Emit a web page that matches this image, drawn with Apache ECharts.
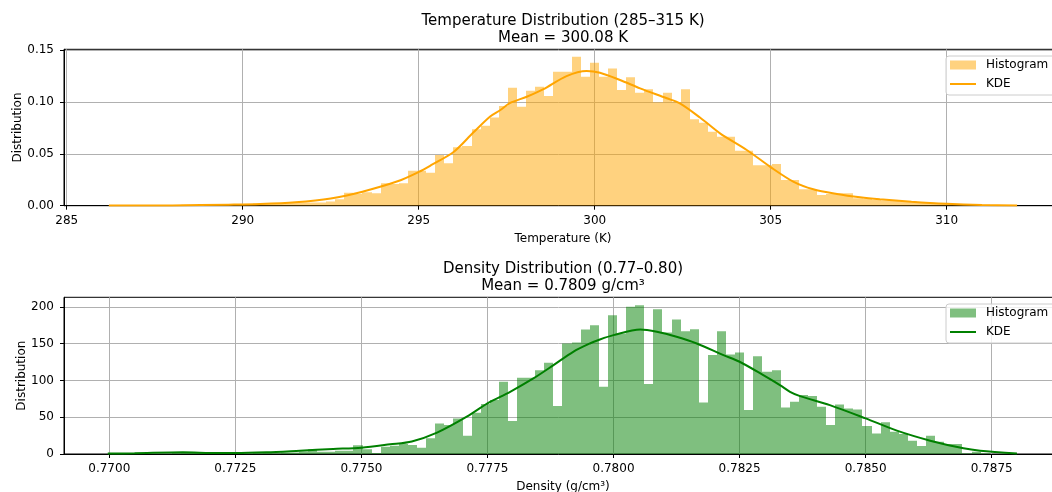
<!DOCTYPE html>
<html><head><meta charset="utf-8">
<script src="https://cdn.jsdelivr.net/npm/echarts@6/dist/echarts.min.js"></script>
<style>html,body{margin:0;padding:0;background:#fff}#c{width:1052px;height:492px}</style>
</head><body><div id="c"></div>
<script>
// ---------- data ----------
const tempTitle = 'Temperature Distribution (285–315 K)';
const tempMeanText = 'Mean = 300.08 K';
const densTitle = 'Density Distribution (0.77–0.80)';
const densMeanText = 'Mean = 0.7809 g/cm³';

const tempBinRange = [286.17, 312.0];
const tempHist = [
 0.0004,0,0,0.0004,0,0.0004,0.0004,0,0.0008,0.0004,
 0.0008,0.0012,0.0008,0.0016,0.0012,0.0016,0.002,0.0024,0.0023,0.0024,
 0.0028,0.003,0.003,0.0032,0.004,0.0062,0.0125,0.0115,0.013,0.012,
 0.0216,0.021,0.0216,0.0337,0.0337,0.0318,0.0488,0.0408,0.0563,0.0575,
 0.0736,0.077,0.085,0.096,0.1137,0.0954,0.1108,0.1146,0.1056,0.1291,
 0.129,0.1435,0.1243,0.1378,0.1243,0.1323,0.1115,0.1237,0.1089,0.1121,
 0.0996,0.1089,0.100,0.1121,0.0832,0.080,0.0713,0.0665,0.0665,0.053,
 0.053,0.039,0.039,0.0402,0.0248,0.0248,0.0158,0.0158,0.0103,0.0113,
 0.0119,0.0119,0.0071,0.0065,0.0055,0.005,0.0046,0.0042,0.0038,0.0034,
 0.0028,0.0024,0.002,0.0016,0.0012,0.0008,0.0008,0.0004,0.0004,0.0004
];
const tempKdeX = [286.2,288,289.6,290.5,291.5,292.5,293.4,294.4,295.0,295.35,296.0,296.55,297.03,297.31,297.6,298.07,298.53,299.2,299.77,300.15,300.72,301.29,302.05,302.42,302.99,303.56,304.32,304.98,305.64,306.21,306.88,307.54,308.1,309.0,310.0,311.0,312.0];
const tempKdeY = [0.0001,0.0003,0.001,0.0016,0.0033,0.007,0.0135,0.0235,0.0325,0.039,0.052,0.0705,0.086,0.092,0.099,0.105,0.112,0.1249,0.1298,0.1281,0.1211,0.1131,0.1035,0.0986,0.085,0.0697,0.0537,0.0376,0.0232,0.0158,0.0113,0.0081,0.0062,0.0038,0.0018,0.0006,0.0001];

const densBinRange = [0.769974, 0.788002];
const densHist = [
 1.1,0,0,0,0,0,0,1.1,2.2,2.2,
 2.2,1.1,1.1,0,1.1,0,1.1,2.2,1.1,2.2,
 2.2,3.3,6.4,3,3,4.5,4.5,11.8,6.5,1.5,
 10,11.3,13.6,12.2,8.6,21.3,41.6,39.4,48.4,24.9,
 56.1,67.9,73.3,98.2,44.8,103.6,103.6,114,124,65.2,
 150.2,151.6,169.2,175.1,91.4,188.7,163.8,200,202.3,95,
 196.8,165,182.8,167,169.7,70.1,134.4,167,135.3,138,
 59.7,133,111.8,114,63.3,71,80.1,78.7,64.3,39.4,
 67.4,62,60.6,38,28,43,30.3,27.2,18.1,10.9,
 24.9,16.7,13.6,13.6,1,3.2,1,0,0,1.1
];
const densKdeX = [0.76997,0.7705,0.77146,0.772,0.7725,0.77312,0.77378,0.77444,0.775,0.77557,0.776,0.7765,0.77709,0.7775,0.77795,0.77841,0.77881,0.7792,0.77953,0.77973,0.78,0.78053,0.78086,0.78125,0.78165,0.78218,0.7825,0.78297,0.7833,0.7835,0.7837,0.78429,0.785,0.78562,0.78628,0.78694,0.78727,0.788];
const densKdeY = [0.7,1.0,2.3,1.5,1.2,2.3,4.5,6.8,8.6,13.1,17,29,50.7,68.8,84.6,102.7,120.8,138.9,150.2,155.7,161.6,169.2,166.1,159.3,150.2,134.4,125.4,107.2,93.7,84.6,78.7,66.5,48.4,31.7,18.1,7.7,4.5,0.8];

const tempXTicks = [285,290,295,300,305,310];
const tempYTicks = [0,0.05,0.10,0.15];
const densXTicks = [0.7700,0.7725,0.7750,0.7775,0.7800,0.7825,0.7850,0.7875];
const densYTicks = [0,50,100,150,200];

// ---------- helpers ----------
function binRects(range, vals){
  const n = vals.length, w = (range[1]-range[0])/n;
  return vals.map((v,i)=>[range[0]+i*w, range[0]+(i+1)*w, v]);
}
function zip(a,b){return a.map((x,i)=>[x,b[i]]);}
function renderBar(params, api){
  const p0 = api.coord([api.value(0), api.value(2)]);
  const p1 = api.coord([api.value(1), 0]);
  const x0 = Math.round(p0[0]), x1 = Math.round(p1[0]);
  return {type:'rect', shape:{x:x0, y:p0[1], width:x1-x0, height:p1[1]-p0[1]}, style: api.style()};
}

const FONT = 'DejaVu Sans';
const txt = {fontFamily: FONT, color:'#000'};
const LINE_ICON = 'path://M0,0 L0,0 Z M0,3.5 L26,3.5 L26,5.5 L0,5.5 Z M26,9 L26,9 Z';
function xAx(idx, min, max, ticks, dec, name){
  return {type:'value', gridIndex:idx, min:min, max:max,
    name:name, nameLocation:'middle', nameGap:27, nameMoveOverlap:false, nameTextStyle:Object.assign({fontSize:12},txt),
    axisLine:{show:true, onZero:false, lineStyle:{color:'#000', width:1}},
    axisTick:{show:true, length:4, customValues:ticks, lineStyle:{color:'#000'}},
    axisLabel:Object.assign({fontSize:12, margin:9, customValues:ticks, formatter:v=>v.toFixed(dec)},txt),
    splitLine:{show:true, lineStyle:{color:'#b0b0b0', width:1}}};
}
function yAx(idx, max, ticks, dec, gap){
  return {type:'value', gridIndex:idx, min:0, max:max,
    name:'Distribution', nameLocation:'middle', nameGap:gap, nameMoveOverlap:false, nameTextStyle:Object.assign({fontSize:12},txt),
    axisLine:{show:true, lineStyle:{color:'#000', width:1}},
    axisTick:{show:true, length:4, customValues:ticks, lineStyle:{color:'#000'}},
    axisLabel:Object.assign({fontSize:12, margin:10, customValues:ticks, formatter:v=>v.toFixed(dec)},txt),
    splitLine:{show:true, lineStyle:{color:'#b0b0b0', width:1}}};
}
function legendAt(top, names){
  return {left:946, top:top, orient:'vertical', itemWidth:26, itemHeight:9, itemGap:7,
    padding:[3,8,5,4], backgroundColor:'rgba(255,255,255,0.8)', borderColor:'#cccccc', borderWidth:1, borderRadius:3,
    textStyle:Object.assign({fontSize:12, padding:[0,0,0,5]},txt), formatter:n=>n.trim(),
    data:[{name:names[0], icon:'rect'}, {name:names[1], icon:LINE_ICON}]};
}

const chart = echarts.init(document.getElementById('c'), null, {renderer:'canvas'});
chart.setOption({
  animation:false,
  title:[
    {text: tempTitle+'\n'+tempMeanText, left:563, top:13, padding:0, textAlign:'center',
     textStyle:Object.assign({fontSize:15, fontWeight:'normal', lineHeight:17},txt)},
    {text: densTitle+'\n'+densMeanText, left:563, top:261, padding:0, textAlign:'center',
     textStyle:Object.assign({fontSize:15, fontWeight:'normal', lineHeight:17},txt)}
  ],
  legend:[legendAt(56, ['Histogram','KDE']), legendAt(304, ['Histogram ','KDE '])],
  grid:[
    {left:64, right:-10, top:49.3, height:156.4, show:true, borderColor:'#000', borderWidth:1, backgroundColor:'transparent', containLabel:false, outerBoundsMode:'none'},
    {left:64, right:-10, top:297.3, height:156.7, show:true, borderColor:'#000', borderWidth:1, backgroundColor:'transparent', containLabel:false, outerBoundsMode:'none'}
  ],
  xAxis:[
    xAx(0, 284.923, 313.276, tempXTicks, 0, 'Temperature (K)'),
    xAx(1, 0.769102, 0.788894, densXTicks, 4, 'Density (g/cm³)')
  ],
  yAxis:[
    yAx(0, 0.1507, tempYTicks, 2, 40),
    yAx(1, 213, densYTicks, 0, 36)
  ],
  series:[
    {name:'Histogram', type:'custom', xAxisIndex:0, yAxisIndex:0, renderItem:renderBar,
     encode:{x:[0,1], y:2}, data:binRects(tempBinRange, tempHist), itemStyle:{color:'rgba(255,165,0,0.5)'}, clip:true},
    {name:'KDE', type:'line', xAxisIndex:0, yAxisIndex:0, data:zip(tempKdeX,tempKdeY), smooth:0.3,
     showSymbol:false, symbol:'none', lineStyle:{color:'#FFA500', width:2}, itemStyle:{color:'#FFA500'}},
    {name:'Histogram ', type:'custom', xAxisIndex:1, yAxisIndex:1, renderItem:renderBar,
     encode:{x:[0,1], y:2}, data:binRects(densBinRange, densHist), itemStyle:{color:'rgba(0,128,0,0.5)'}, clip:true},
    {name:'KDE ', type:'line', xAxisIndex:1, yAxisIndex:1, data:zip(densKdeX,densKdeY), smooth:0.3,
     showSymbol:false, symbol:'none', lineStyle:{color:'#008000', width:2}, itemStyle:{color:'#008000'}}
  ]
});
</script></body></html>
